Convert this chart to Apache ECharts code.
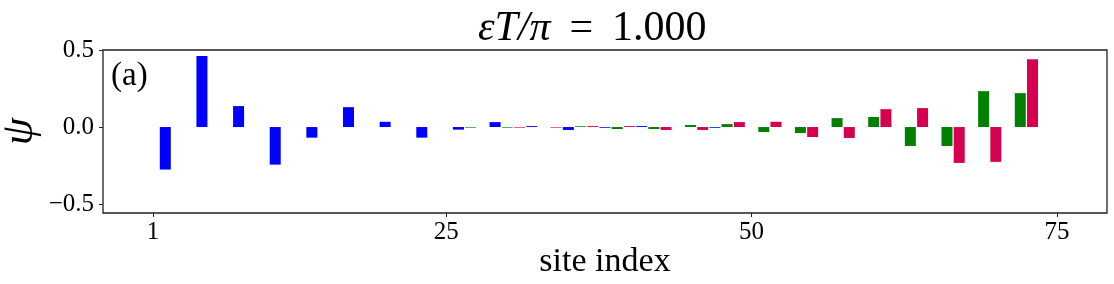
<!DOCTYPE html>
<html>
<head>
<meta charset="utf-8">
<script src="https://cdn.jsdelivr.net/npm/echarts@6/dist/echarts.min.js"></script>
<style>
html,body{margin:0;padding:0;background:#fff;}
#c{width:1114px;height:284px;}
</style>
</head>
<body>
<div id="c"></div>
<script>
// ---- data (site index, amplitude psi) ----
const blueSites  = [2, 5, 8, 11, 14, 17, 20, 23, 26, 29, 32, 35, 38, 41, 44, 47, 50, 53, 56, 59, 62, 65, 68, 71, 74];
const blueValues = [-0.276, 0.461, 0.136, -0.244, -0.069, 0.129, 0.034, -0.069, -0.017, 0.032, 0.006, -0.019, -0.005, 0.006, 0, -0.005, 0, 0, 0, 0, 0, 0, 0, 0, 0];
const greenSites  = [3, 6, 9, 12, 15, 18, 21, 24, 27, 30, 33, 36, 39, 42, 45, 48, 51, 54, 57, 60, 63, 66, 69, 72, 75];
const greenValues = [0, 0, 0, 0, 0, 0, 0, 0, -0.004, -0.004, 0, 0.005, -0.013, -0.013, 0.013, 0.019, -0.032, -0.039, 0.058, 0.065, -0.123, -0.123, 0.233, 0.220, 0];
const redSites  = [1, 4, 7, 10, 13, 16, 19, 22, 25, 28, 31, 34, 37, 40, 43, 46, 49, 52, 55, 58, 61, 64, 67, 70, 73];
const redValues = [0, 0, 0, 0, 0, 0, 0, 0, 0, 0, -0.004, -0.004, 0.006, 0.006, -0.019, -0.019, 0.032, 0.034, -0.065, -0.071, 0.116, 0.123, -0.233, -0.226, 0.440];
const xTicks = [1, 25, 50, 75];
const yTicks = [-0.5, 0, 0.5];
const titleMath = 'εT/π';
const titleRest = ' \u2009= \u20091.000';
const panelLabel = '(a)';
const xName = 'site index';
const yName = 'ψ';

const FONT = 'Liberation Serif';
const pairs = (s, v) => s.map((x, i) => [x, v[i]]);

const chart = echarts.init(document.getElementById('c'), null, {renderer: 'canvas'});
const barBase = {type: 'bar', barWidth: 11, barGap: '-100%', animation: false};
chart.setOption({
  backgroundColor: '#ffffff',
  title: {
    text: '{m|' + titleMath + '}{n|' + titleRest + '}',
    left: 473, top: 3,
    textStyle: {
      fontWeight: 'normal',
      rich: {
        m: {fontFamily: FONT, fontStyle: 'italic', fontWeight: 'normal', fontSize: 42, color: '#000'},
        n: {fontFamily: FONT, fontWeight: 'normal', fontSize: 42, color: '#000'}
      }
    }
  },
  grid: {left: 103, right: 7, top: 50, bottom: 71, containLabel: false, outerBoundsMode: 'none',
         show: true, borderColor: '#222', borderWidth: 1.3, backgroundColor: 'transparent'},
  xAxis: {
    type: 'value', min: -3.1, max: 79.1,
    name: xName, nameLocation: 'middle', nameGap: 32, nameMoveOverlap: false,
    nameTextStyle: {fontFamily: FONT, fontSize: 34, color: '#000'},
    splitLine: {show: false},
    axisLine: {show: false, onZero: false},
    axisTick: {show: true, length: 4, customValues: xTicks, lineStyle: {color: '#222'}},
    axisLabel: {customValues: xTicks, fontFamily: FONT, fontSize: 25, color: '#000', margin: 7}
  },
  yAxis: {
    type: 'value', min: -0.558, max: 0.5,
    name: yName, nameLocation: 'middle', nameGap: 61, nameRotate: 90, nameMoveOverlap: false,
    nameTextStyle: {fontFamily: FONT, fontStyle: 'italic', fontSize: 44, color: '#000'},
    splitLine: {show: false},
    axisLine: {show: false, onZero: false},
    axisTick: {show: true, length: 4, customValues: yTicks, lineStyle: {color: '#222'}},
    axisLabel: {
      customValues: yTicks, fontFamily: FONT, fontSize: 25, color: '#000', margin: 9,
      formatter: v => (v < 0 ? '\u2212' : '') + Math.abs(v).toFixed(1)
    }
  },
  graphic: [{
    type: 'text', left: 111, top: 60,
    style: {text: panelLabel, fontFamily: FONT, fontSize: 33, fill: '#000'}
  }],
  series: [
    Object.assign({name: 'blue', data: pairs(blueSites, blueValues), itemStyle: {color: '#0000ff'}}, barBase),
    Object.assign({name: 'green', data: pairs(greenSites, greenValues), itemStyle: {color: '#008000'}}, barBase),
    Object.assign({name: 'red', data: pairs(redSites, redValues), itemStyle: {color: '#d5004f'}}, barBase)
  ]
});
</script>
</body>
</html>
